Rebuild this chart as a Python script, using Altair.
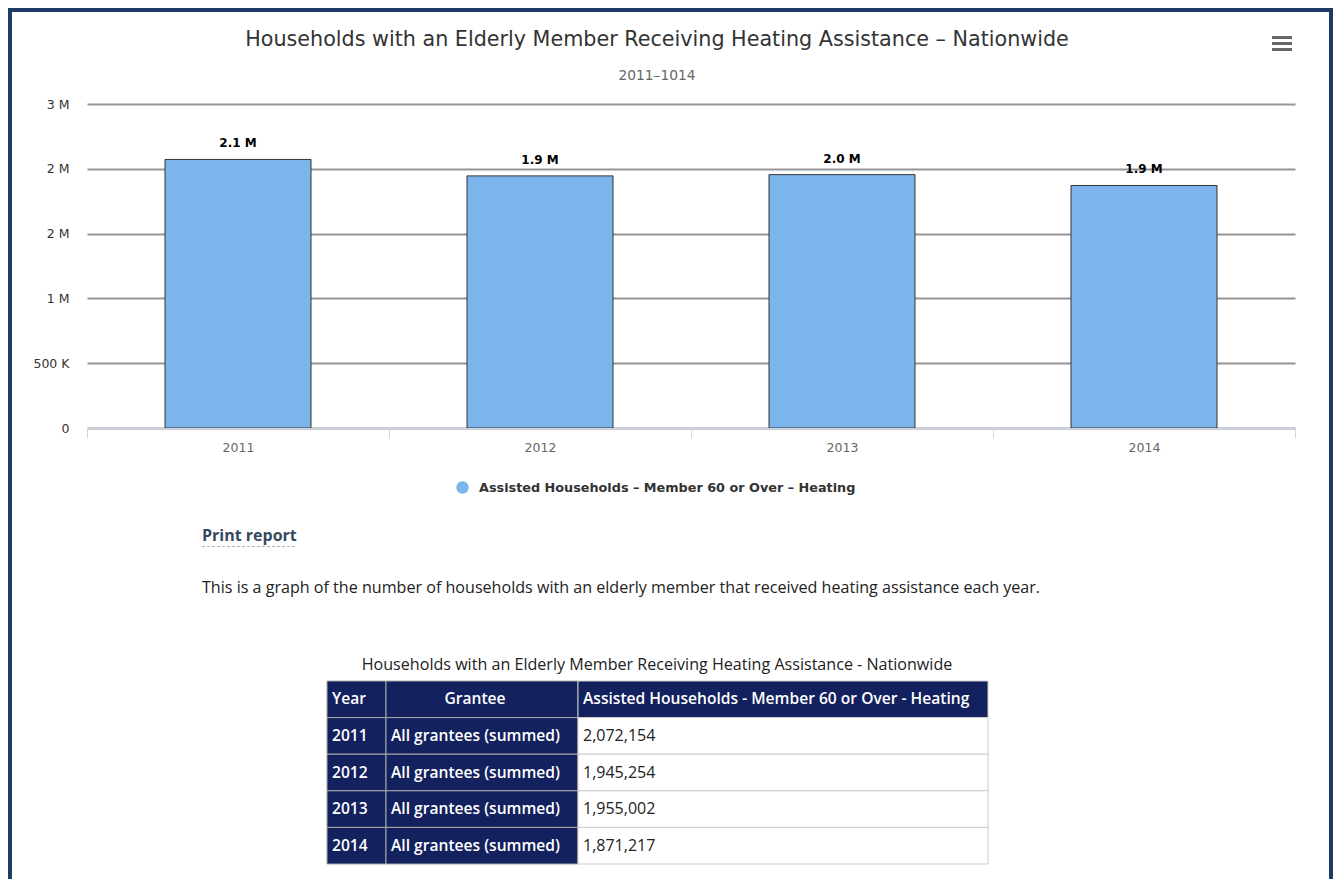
import altair as alt
import pandas as pd

# ---------------- data ----------------
years = ["2011", "2012", "2013", "2014"]
households = [2072154, 1945254, 1955002, 1871217]
grantees = ["All grantees (summed)", "All grantees (summed)", "All grantees (summed)", "All grantees (summed)"]
series_name = "Assisted Households – Member 60 or Over – Heating"
y_tick_values = [0, 500000, 1000000, 1500000, 2000000, 2500000]
y_tick_labels = ["0", "500 K", "1 M", "2 M", "2 M", "3 M"]
chart_title = "Households with an Elderly Member Receiving Heating Assistance – Nationwide"
chart_subtitle = "2011–1014"
print_label = "Print report"
description = ("This is a graph of the number of households with an elderly member "
               "that received heating assistance each year.")
table_caption = "Households with an Elderly Member Receiving Heating Assistance - Nationwide"
table_headers = ["Year", "Grantee", "Assisted Households - Member 60 or Over - Heating"]

# ---------------- layout helpers ----------------
W, H = 1208, 324
ORIGIN_X, ORIGIN_Y = 87, 104          # page position of the plot area


def px(X):
    return X - ORIGIN_X


def py(Y):
    return Y - ORIGIN_Y


HC = "DejaVu Sans"
OS = "Open Sans"
NAVY = "#13215e"
FRAME = "#203a68"

# ---------------- bar chart ----------------
bars_df = pd.DataFrame({"year": years, "value": households, "series": [series_name] * len(years)})

label_expr = ""
for v, l in zip(y_tick_values, y_tick_labels):
    label_expr += f"datum.value == {v} ? '{l}' : "
label_expr += "''"

x_scale = alt.Scale(domain=years, paddingInner=0, paddingOuter=0)
y_scale = alt.Scale(domain=[0, 2500000], nice=False)

bars = alt.Chart(bars_df).mark_bar(
    width=alt.RelativeBandSize(146 / 302), stroke="#333333", strokeWidth=1
).encode(
    x=alt.X("year:N", scale=x_scale, title=None,
            axis=alt.Axis(labelAngle=0, tickBand="extent", domainColor="#ccd6eb", tickColor="#ccd6eb",
                          tickSize=10, tickWidth=1, domainWidth=1, labelColor="#666666",
                          labelFontSize=12.5, labelFont=HC, labelPadding=3, grid=False, zindex=1)),
    y=alt.Y("value:Q", scale=y_scale, title=None,
            axis=alt.Axis(values=y_tick_values, labelExpr=label_expr, ticks=False, domain=False,
                          labelPadding=18, labelFontSize=12.5, labelColor="#333333", labelFont=HC,
                          gridColor="#959595", gridWidth=2)),
    color=alt.Color("series:N", scale=alt.Scale(domain=[series_name], range=["#7cb5ec"]), title=None,
                    legend=alt.Legend(orient="none", legendX=px(456), legendY=py(481), padding=0,
                                      symbolType="circle", symbolSize=154, symbolStrokeWidth=0,
                                      labelOffset=10, labelFont=HC, labelFontSize=12.8,
                                      labelFontWeight="bold", labelColor="#333333", labelLimit=0)),
)

bar_labels = alt.Chart(bars_df).transform_calculate(
    label="format(datum.value / 1000000, '.1f') + ' M'"
).mark_text(dy=-16, font=HC, fontSize=12, fontWeight="bold", color="#000000").encode(
    x=alt.X("year:N", scale=x_scale, axis=None),
    y=alt.Y("value:Q", scale=y_scale, axis=None),
    text="label:N",
)


# ---------------- free text ----------------
def text_at(txt, X, Y, **kw):
    return alt.Chart(pd.DataFrame({"t": [txt]})).mark_text(**kw).encode(
        x=alt.value(px(X)), y=alt.value(py(Y)), text="t:N")


def rule_at(X1, X2, Y, **kw):
    return alt.Chart(pd.DataFrame({"k": [0]})).mark_rule(**kw).encode(
        x=alt.value(px(X1)), x2=alt.value(px(X2)), y=alt.value(py(Y)))


frame = alt.Chart(pd.DataFrame({"k": [0]})).mark_rect(
    fillOpacity=0, stroke=FRAME, strokeWidth=4
).encode(x=alt.value(px(10)), x2=alt.value(px(1331)), y=alt.value(py(10)), y2=alt.value(py(960)))

title = text_at(chart_title, 657, 40, font=HC, fontSize=20.7, color="#333333", align="center", baseline="middle")
subtitle = text_at(chart_subtitle, 657, 76, font=HC, fontSize=13.8, color="#666666", align="center", baseline="middle")
menu = [rule_at(1272, 1292, yy, stroke="#666666", strokeWidth=3) for yy in (37.5, 43.5, 49.5)]

print_txt = text_at(print_label, 202, 536, font=OS, fontSize=16, fontWeight="bold", color="#34495e",
                    align="left", baseline="middle")
print_line = rule_at(202, 297, 546.5, stroke="#b0b0b0", strokeWidth=1, strokeDash=[3, 2])
para = text_at(description, 202, 588, font=OS, fontSize=16.1, color="#222222", align="left", baseline="middle")
caption = text_at(table_caption, 657, 665, font=OS, fontSize=16.1, color="#222222", align="center", baseline="middle")

# ---------------- table ----------------
row_keys = ["header"] + years
table_df = pd.DataFrame({
    "row": row_keys,
    "c1": [table_headers[0]] + years,
    "c2": [table_headers[1]] + grantees,
    "c3": [table_headers[2]] + [f"{v:,}" for v in households],
    "hdr": [True] + [False] * len(years),
})
ty = alt.Y("row:N", scale=alt.Scale(domain=row_keys, range=[py(681), py(864)], paddingInner=0, paddingOuter=0),
           axis=None)
tbase = alt.Chart(table_df)

cell1 = tbase.mark_rect(fill=NAVY, stroke="#a8a8a8", strokeWidth=1).encode(
    x=alt.value(px(327)), x2=alt.value(px(386)), y=ty)
cell2 = tbase.mark_rect(fill=NAVY, stroke="#a8a8a8", strokeWidth=1).encode(
    x=alt.value(px(386)), x2=alt.value(px(578)), y=ty)
cell3 = tbase.mark_rect(stroke="#cccccc", strokeWidth=1).encode(
    x=alt.value(px(578)), x2=alt.value(px(988)), y=ty,
    fill=alt.condition("datum.hdr", alt.value(NAVY), alt.value("#ffffff")))

tfont = dict(font=OS, fontSize=15.6, baseline="middle")
txt1 = tbase.mark_text(align="left", color="#ffffff", fontWeight=600, **tfont).encode(
    x=alt.value(px(332)), y=ty, text="c1:N")
txt2h = tbase.transform_filter("datum.hdr").mark_text(align="center", color="#ffffff", fontWeight=600, **tfont).encode(
    x=alt.value(px(475)), y=ty, text="c2:N")
txt2 = tbase.transform_filter("!datum.hdr").mark_text(align="left", color="#ffffff", fontWeight=600, **tfont).encode(
    x=alt.value(px(391)), y=ty, text="c2:N")
txt3h = tbase.transform_filter("datum.hdr").mark_text(align="left", color="#ffffff", fontWeight=600, **tfont).encode(
    x=alt.value(px(583)), y=ty, text="c3:N")
txt3 = tbase.transform_filter("!datum.hdr").mark_text(align="left", color="#222222", font=OS, fontSize=16,
                                                     baseline="middle").encode(
    x=alt.value(px(583)), y=ty, text="c3:N")

layers = [bars, bar_labels, title, subtitle, *menu, print_txt, print_line, para, caption,
          cell1, cell2, cell3, txt1, txt2h, txt2, txt3h, txt3, frame]

chart = alt.layer(*layers).resolve_scale(
    x="independent", y="independent", color="independent"
).properties(
    width=W, height=H,
    autosize=alt.AutoSizeParams(type="none"),
    padding={"left": 79, "top": 96, "right": 38, "bottom": 451},
    background="#ffffff",
).configure_view(strokeWidth=0)

chart.save("out.html", embed_options={"renderer": "svg", "actions": False})
